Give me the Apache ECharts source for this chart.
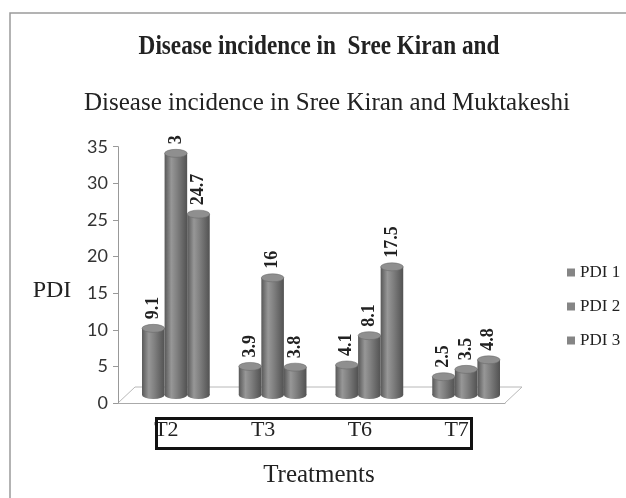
<!DOCTYPE html>
<html>
<head>
<meta charset="utf-8">
<script src="https://cdn.jsdelivr.net/npm/echarts/dist/echarts.min.js"></script>
<style>
  html, body { margin: 0; padding: 0; background: #fff; }
  #box { width: 626px; height: 498px; }
</style>
</head>
<body>
<div id="box"></div>
<script>
var categories = ['T2', 'T3', 'T6', 'T7']
var seriesNames = ['PDI 1', 'PDI 2', 'PDI 3']
var pdi1 = [9.1, 3.9, 4.1, 2.5]
var pdi2 = [33, 16, 8.1, 3.5]
var pdi3 = [24.7, 3.8, 17.5, 4.8]
var yTicks = { min: 0, max: 35, interval: 5 }

var SERIF = '"Liberation Serif", "Times New Roman", serif'
var CAT_GAP = 0.3
var LABEL_TOP = 131

var Chart = echarts.init(document.getElementById('box'))

function bodyFill() {
    return new echarts.graphic.LinearGradient(0, 0, 1, 0, [
        { offset: 0, color: '#585858' },
        { offset: 0.3, color: '#979797' },
        { offset: 0.55, color: '#808080' },
        { offset: 1, color: '#525252' }
    ])
}

function cylinder(idx) {
    return function (params, api) {
        var cat = api.value(0)
        var val = api.value(1)
        var base = api.coord([cat, 0])
        var top = api.coord([cat, val])
        var w = api.size([1, 0])[0] * (1 - CAT_GAP) / 3
        var x0 = base[0] - 1.5 * w + idx * w
        var cx = x0 + w / 2
        var rx = w / 2
        var ry = 4
        var anchor = top[1] - ry - 5
        return {
            type: 'group',
            children: [
                {
                    type: 'circle', x: cx, y: base[1], scaleY: ry / rx,
                    shape: { cx: 0, cy: 0, r: rx },
                    style: { fill: bodyFill() }
                },
                {
                    type: 'rect',
                    shape: { x: x0, y: top[1], width: w, height: base[1] - top[1] },
                    style: { fill: bodyFill() }
                },
                {
                    type: 'circle', x: cx, y: top[1], scaleY: ry / rx,
                    shape: { cx: 0, cy: 0, r: rx },
                    style: { fill: '#8f8f8f', stroke: '#666', lineWidth: 0.8 }
                },
                {
                    type: 'text', x: cx, y: anchor, rotation: Math.PI / 2,
                    style: {
                        text: String(val),
                        font: 'bold 18px ' + SERIF,
                        fill: '#222',
                        align: 'left',
                        verticalAlign: 'middle',
                        width: Math.max(anchor - LABEL_TOP, 1),
                        overflow: 'truncate',
                        ellipsis: ''
                    }
                }
            ]
        }
    }
}

function pairs(arr) {
    return arr.map(function (v, i) { return [i, v] })
}

var allSeries = [pdi1, pdi2, pdi3].map(function (arr, i) {
    return {
        name: seriesNames[i],
        type: 'custom',
        xAxisIndex: 1,
        yAxisIndex: 1,
        clip: false,
        z: 3,
        itemStyle: { color: '#858585' },
        encode: { x: 0, y: 1 },
        renderItem: cylinder(i),
        data: pairs(arr)
    }
})

var option = {
    animation: false,
    title: {
        text: 'Disease incidence in Sree Kiran and Muktakeshi',
        left: 322,
        top: 86,
        textAlign: 'center',
        textStyle: { fontFamily: SERIF, fontWeight: 'normal', fontSize: 25, color: '#222' }
    },
    legend: {
        orient: 'vertical',
        left: 562,
        top: 259,
        icon: 'rect',
        itemWidth: 8,
        itemHeight: 8,
        itemGap: 17,
        textStyle: { fontFamily: SERIF, fontSize: 17, lineHeight: 17, color: '#222' },
        data: seriesNames
    },
    grid: [
        { left: 118, top: 146.7, width: 387, height: 256.3 },
        { left: 127.5, top: 138.7, width: 387, height: 256.3 }
    ],
    xAxis: [
        {
            gridIndex: 0,
            type: 'category',
            data: categories,
            axisLine: { lineStyle: { color: '#aaa', width: 1 } },
            axisTick: { length: 6, lineStyle: { color: '#aaa' } },
            axisLabel: { fontFamily: SERIF, fontSize: 22, color: '#222', margin: 16 }
        },
        { gridIndex: 1, type: 'category', data: categories, show: false }
    ],
    yAxis: [
        {
            gridIndex: 0,
            type: 'value',
            min: yTicks.min,
            max: yTicks.max,
            interval: yTicks.interval,
            axisLine: { show: true, lineStyle: { color: '#999' } },
            axisTick: { show: true, length: 5, lineStyle: { color: '#999' } },
            axisLabel: { fontFamily: 'Lato, "Open Sans", sans-serif', fontSize: 18, color: '#333', margin: 10 },
            splitLine: { show: false }
        },
        { gridIndex: 1, type: 'value', min: yTicks.min, max: yTicks.max, show: false }
    ],
    graphic: [
        {
            type: 'polyline', z: 0,
            shape: { points: [[10, 498], [10, 13], [626, 13]] },
            style: { stroke: '#9a9a9a', lineWidth: 1.5, fill: null }
        },
        {
            type: 'polyline', z: 0,
            shape: { points: [[118, 403], [135, 387], [522, 387], [505, 403]] },
            style: { stroke: '#b8b8b8', lineWidth: 1, fill: null }
        },
        {
            type: 'text', x: 319, y: 47, scaleX: 0.86,
            style: { text: 'Disease incidence in  Sree Kiran and', font: 'bold 27px ' + SERIF, fill: '#222', align: 'center', verticalAlign: 'middle' }
        },
        {
            type: 'text', x: 52, y: 291,
            style: { text: 'PDI', font: '24px ' + SERIF, fill: '#222', align: 'center', verticalAlign: 'middle' }
        },
        {
            type: 'text', x: 319, y: 475,
            style: { text: 'Treatments', font: '25px ' + SERIF, fill: '#222', align: 'center', verticalAlign: 'middle' }
        },
        {
            type: 'rect', z: 5,
            shape: { x: 156.5, y: 418.5, width: 315, height: 30 },
            style: { stroke: '#111', lineWidth: 3, fill: null }
        }
    ],
    series: allSeries
}

option && Chart.setOption(option)
</script>
</body>
</html>
